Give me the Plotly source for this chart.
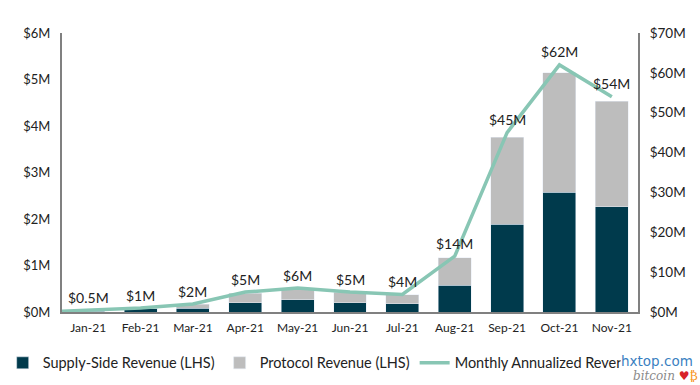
import plotly.graph_objects as go

months = ["Jan-21","Feb-21","Mar-21","Apr-21","May-21","Jun-21","Jul-21","Aug-21","Sep-21","Oct-21","Nov-21"]
month_pos = list(range(len(months)))
supply = [0.02,0.07,0.08,0.20,0.26,0.20,0.18,0.58,1.89,2.58,2.26]
protocol = [0.02,0.02,0.09,0.20,0.24,0.22,0.19,0.59,1.87,2.57,2.27]
annualized = [0.5,1,2,5,6,5,4.4,14,45,62,54]
line_start_pos = [-0.5]
line_start_val = [0.2]
point_labels = ["$0.5M","$1M","$2M","$5M","$6M","$5M","$4M","$14M","$45M","$62M","$54M"]
left_ticks = [0,1,2,3,4,5,6]
left_labels = ["$0M","$1M","$2M","$3M","$4M","$5M","$6M"]
right_ticks = [0,10,20,30,40,50,60,70]
right_labels = ["$0M","$10M","$20M","$30M","$40M","$50M","$60M","$70M"]

FONT = "Lato, 'Open Sans', sans-serif"
TXT = "#222222"

fig = go.Figure()
fig.add_bar(x=month_pos, y=supply, name="Supply-Side Revenue (LHS)", marker_color="#003A4C", width=0.63)
fig.add_bar(x=month_pos, y=protocol, name="Protocol Revenue (LHS)", marker_color="#BDBDBD", width=0.63)
fig.add_scatter(x=line_start_pos + month_pos, y=line_start_val + annualized, name="Monthly Annualized Rever",
                yaxis="y2", mode="lines", line=dict(color="#88C6B4", width=3.5))

labels = [dict(x=m, y=v, xref="x", yref="y2", text=t, showarrow=False, yanchor="middle", yshift=13,
               font=dict(size=14, color=TXT, family=FONT))
          for m, v, t in zip(month_pos, annualized, point_labels)]

fig.update_layout(
    width=700, height=385, barmode="stack", paper_bgcolor="white", plot_bgcolor="white",
    margin=dict(l=62, r=62, t=33, b=73, autoexpand=False), font=dict(family=FONT, color=TXT, size=13),
    xaxis=dict(range=[-0.5,10.5], tickvals=month_pos, ticktext=months, showgrid=False, zeroline=False,
               showline=True, linecolor="#808080", linewidth=2,
               ticks="outside", ticklen=4, tickcolor="white", tickfont=dict(size=12), automargin=False),
    yaxis=dict(range=[0,6], tickvals=left_ticks, ticktext=left_labels, showgrid=False, showline=True,
               linecolor="#808080", linewidth=2, zeroline=False, tickfont=dict(size=13), ticks="outside",
               ticklen=7, tickcolor="white", automargin=False),
    yaxis2=dict(range=[0,70], tickvals=right_ticks, ticktext=right_labels, overlaying="y", side="right",
                showgrid=False, showline=True, linecolor="#808080", linewidth=2, zeroline=False,
                tickfont=dict(size=13.5), ticks="outside", ticklen=7, tickcolor="white", automargin=False),
    legend=dict(orientation="h", x=-0.103, xref="paper", y=-0.125, yanchor="top", xanchor="left",
                font=dict(size=14.5), traceorder="normal", itemwidth=30),
    annotations=labels + [
        dict(xref="paper", yref="paper", x=1.097, y=-0.143, xanchor="right", yanchor="top", text="hxtop.com",
             showarrow=False, bgcolor="white", font=dict(size=13.5, color="#3A7FC1", family="DejaVu Sans"),
             borderpad=0),
        dict(xref="paper", yref="paper", x=1.108, y=-0.197, xanchor="right", yanchor="top",
             text="<i>bitcoin</i> <span style='color:#D8232A'>♥</span><span style='color:#F7931A'>₿</span>",
             showarrow=False, font=dict(size=12, color="#8a8a8a", family="DejaVu Serif")),
    ],
)
fig.write_html("out.html", config={"displayModeBar": False},
               post_script="document.body.style.margin='0';document.documentElement.style.overflow='hidden';")
